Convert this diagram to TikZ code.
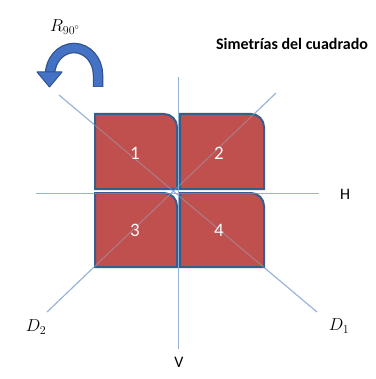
\documentclass[tikz,border=0pt]{standalone}
\usepackage{fontspec}
\setsansfont{Carlito}
\definecolor{sqfill}{RGB}{192,80,77}
\definecolor{sqedge}{RGB}{56,93,138}
\definecolor{axis}{RGB}{149,179,215}
\definecolor{arrowblue}{RGB}{68,114,196}
\definecolor{arrowdark}{RGB}{47,82,143}
\tikzset{
  axisline/.style={draw=axis, line width=1pt},
  axisover/.style={draw=axis, line width=1pt, opacity=0.45},
  sq/.style={fill=sqfill, draw=sqedge, line width=2pt},
  num/.style={font=\sffamily\fontsize{19}{19}\selectfont, text=white!95!pink},
  axlabel/.style={font=\sffamily\fontsize{16}{16}\selectfont},
  mlabel/.style={font=\fontsize{17}{17}\selectfont}
}
\begin{document}
\begin{tikzpicture}[x=1pt,y=-1pt]
\path[use as bounding box, fill=white] (0,0) rectangle (375,379);
% axis end points
\coordinate (O) at (178,192);
\coordinate (Hl) at (36,193);
\coordinate (Hr) at (319,193);
\coordinate (Vt) at (178,77);
\coordinate (Vb) at (178,349);
\coordinate (D1a) at (59,95);
\coordinate (D1b) at (317,312);
\coordinate (D2a) at (47,312);
\coordinate (D2b) at (276,93);
% axes below squares
\draw[axisline] (Hl) -- (Hr);
\draw[axisline] (Vt) -- (Vb);
\draw[axisline] (D1a) -- (D1b);
\draw[axisline] (D2a) -- (D2b);
% squares (top-right corner rounded)
\draw[sq] (95,189) -- (95,114) [rounded corners=13pt] -- (177,114) [sharp corners] -- (177,189) -- cycle;
\draw[sq] (180,189) -- (180,114) [rounded corners=13pt] -- (264,114) [sharp corners] -- (264,189) -- cycle;
\draw[sq] (95,267) -- (95,193) [rounded corners=13pt] -- (177,193) [sharp corners] -- (177,267) -- cycle;
\draw[sq] (180,267) -- (180,193) [rounded corners=13pt] -- (264,193) [sharp corners] -- (264,267) -- cycle;
% axes seen through squares
\draw[axisover] (Hl) -- (Hr);
\draw[axisover] (Vt) -- (Vb);
\draw[axisover] (D1a) -- (D1b);
\draw[axisover] (D2a) -- (D2b);
% numbers
\node[num] (n1) at (135,153) {1};
\node[num] (n2) at (219,153) {2};
\node[num] (n3) at (135,230) {3};
\node[num] (n4) at (219,230) {4};
% axis labels
\node[axlabel] (H) at (345,194) {H};
\node[axlabel] (V) at (179,362) {V};
\node[mlabel] (D1) at (339,326) {$D_1$};
\node[mlabel] (D2) at (36,327) {$D_2$};
% title
\node[font=\sffamily\bfseries\fontsize{16}{16}\selectfont] (title) at (292,44) {Simetrías del cuadrado};
% rotation arrow
\draw[line width=10.5pt, arrowdark] (98,87) -- (98,75) arc[start angle=0, end angle=-180, x radius=24, y radius=27] -- (50,73);
\draw[line width=8pt, arrowblue] (98,86.4) -- (98,75) arc[start angle=0, end angle=-180, x radius=24, y radius=27] -- (50,72);
\filldraw[fill=arrowblue, draw=arrowdark, line width=1pt, line join=round] (37,72) -- (62,72) -- (49.5,87) -- cycle;
\node[font=\fontsize{17}{17}\selectfont] (R) at (65,27) {$R_{\scriptstyle 90^\circ}$};
\end{tikzpicture}
\end{document}
